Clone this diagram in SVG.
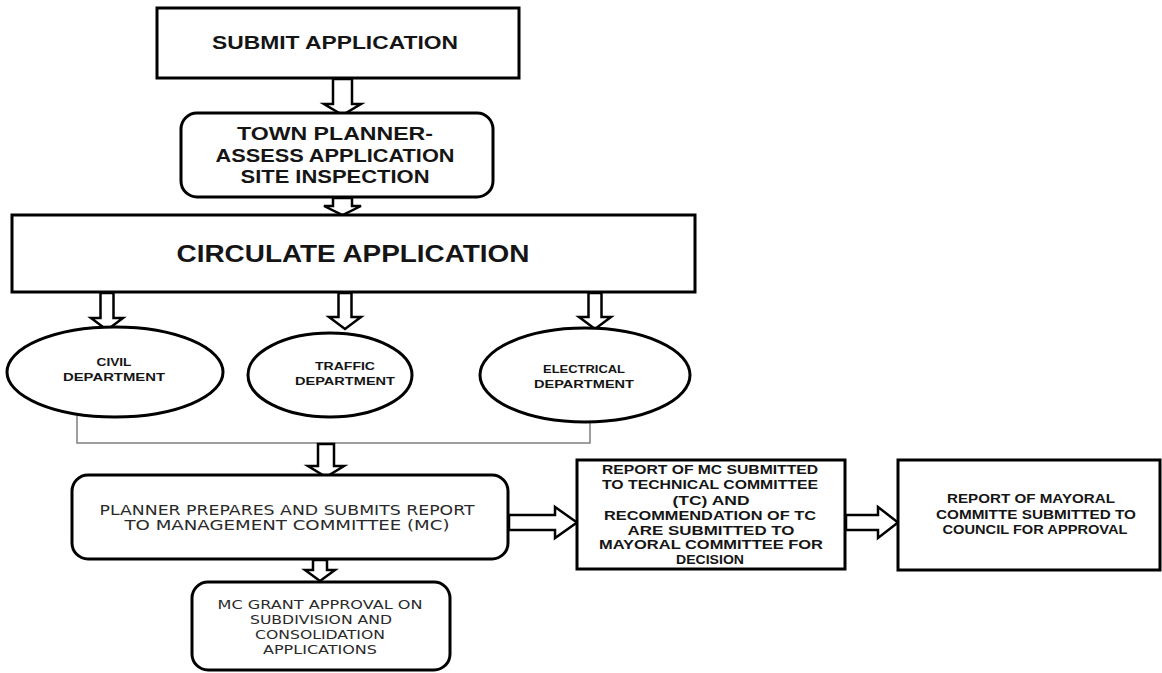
<svg xmlns="http://www.w3.org/2000/svg" width="1162" height="673" viewBox="0 0 1162 673">
<style>
.box{fill:#fff;stroke:#000;stroke-width:3}
.arr{fill:#fff;stroke:#000;stroke-width:2.5;stroke-linejoin:miter}
.link{fill:none;stroke:#7f7f7f;stroke-width:1.5}
.tb{font-family:"Liberation Sans",Arial,sans-serif;font-weight:bold;fill:#151515;text-anchor:middle}
.tw{font-family:"DejaVu Sans","Liberation Sans",sans-serif;fill:#2a2a2a;text-anchor:middle}
</style>
<rect width="1162" height="673" fill="#fff"/>
<g id="connectors">
<polyline class="link" points="77,414 77,443 590,443 590,422"/>
<polygon class="arr" points="333,79 352,79 352,104 361,104 342.5,115 324,104 333,104"/>
<polygon class="arr" points="333,198 352,198 352,206 361,206 342.5,215 324,206 333,206"/>
<polygon class="arr" points="100.5,293 113.5,293 113.5,318 123,318 107,330 91,318 100.5,318"/>
<polygon class="arr" points="338.5,293 351.5,293 351.5,317 361,317 345,329 329,317 338.5,317"/>
<polygon class="arr" points="588.5,293 601.5,293 601.5,317 611,317 595,329 579,317 588.5,317"/>
<polygon class="arr" points="318,444 334,444 334,466 344,466 326,477 308,466 318,466"/>
<polygon class="arr" points="313,560 327,560 327,570 335,570 320,581 305,570 313,570"/>
<polygon class="arr" points="509,515 555,515 555,507 577,522.5 555,538 555,530 509,530"/>
<polygon class="arr" points="846,515 878,515 878,507 898,522.5 878,538 878,530 846,530"/>
</g>
<g id="submit">
<rect class="box" x="157" y="8" width="362" height="70"/>
<text class="tb" x="335" y="49" font-size="18" textLength="246" lengthAdjust="spacingAndGlyphs">SUBMIT APPLICATION</text>
</g>
<g id="townplanner">
<rect class="box" x="181" y="113" width="312" height="84" rx="16"/>
<text class="tb" x="335" y="140" font-size="19" textLength="196" lengthAdjust="spacingAndGlyphs">TOWN PLANNER-</text>
<text class="tb" x="335" y="162" font-size="19" textLength="239" lengthAdjust="spacingAndGlyphs">ASSESS APPLICATION</text>
<text class="tb" x="335" y="183" font-size="19" textLength="189" lengthAdjust="spacingAndGlyphs">SITE INSPECTION</text>
</g>
<g id="circulate">
<rect class="box" x="12" y="215" width="683" height="77"/>
<text class="tb" x="353" y="262" font-size="23" textLength="353" lengthAdjust="spacingAndGlyphs">CIRCULATE APPLICATION</text>
</g>
<g id="civil">
<ellipse class="box" cx="115" cy="372" rx="108" ry="45"/>
<text class="tb" x="114" y="366" font-size="11" textLength="35" lengthAdjust="spacingAndGlyphs">CIVIL</text>
<text class="tb" x="114" y="381" font-size="11" textLength="102" lengthAdjust="spacingAndGlyphs">DEPARTMENT</text>
</g>
<g id="traffic">
<ellipse class="box" cx="330" cy="375" rx="82" ry="42"/>
<text class="tb" x="345" y="370" font-size="11" textLength="60" lengthAdjust="spacingAndGlyphs">TRAFFIC</text>
<text class="tb" x="345" y="385" font-size="11" textLength="100" lengthAdjust="spacingAndGlyphs">DEPARTMENT</text>
</g>
<g id="electrical">
<ellipse class="box" cx="585" cy="375" rx="105" ry="47"/>
<text class="tb" x="584" y="373" font-size="11" textLength="82" lengthAdjust="spacingAndGlyphs">ELECTRICAL</text>
<text class="tb" x="584" y="388" font-size="11" textLength="100" lengthAdjust="spacingAndGlyphs">DEPARTMENT</text>
</g>
<g id="planner">
<rect class="box" x="72" y="475" width="436" height="84" rx="16"/>
<text class="tw" x="287" y="515" font-size="14" textLength="375" lengthAdjust="spacingAndGlyphs">PLANNER PREPARES AND SUBMITS REPORT</text>
<text class="tw" x="287" y="530" font-size="14" textLength="325" lengthAdjust="spacingAndGlyphs">TO MANAGEMENT COMMITTEE (MC)</text>
</g>
<g id="mcgrant">
<rect class="box" x="192" y="582" width="258" height="88" rx="16"/>
<text class="tw" x="320" y="609" font-size="12" textLength="205" lengthAdjust="spacingAndGlyphs">MC GRANT  APPROVAL ON</text>
<text class="tw" x="321" y="624" font-size="12" textLength="142" lengthAdjust="spacingAndGlyphs">SUBDIVISION  AND</text>
<text class="tw" x="320" y="639" font-size="12" textLength="130" lengthAdjust="spacingAndGlyphs">CONSOLIDATION</text>
<text class="tw" x="320" y="654" font-size="12" textLength="114" lengthAdjust="spacingAndGlyphs">APPLICATIONS</text>
</g>
<g id="tc">
<rect class="box" x="577" y="460" width="268" height="109"/>
<text class="tb" x="710" y="474" font-size="12" textLength="216" lengthAdjust="spacingAndGlyphs">REPORT  OF MC SUBMITTED</text>
<text class="tb" x="710" y="489" font-size="12" textLength="216" lengthAdjust="spacingAndGlyphs">TO TECHNICAL COMMITTEE</text>
<text class="tb" x="711" y="505" font-size="12" textLength="77" lengthAdjust="spacingAndGlyphs">(TC) AND</text>
<text class="tb" x="710" y="520" font-size="12" textLength="212" lengthAdjust="spacingAndGlyphs">RECOMMENDATION  OF TC</text>
<text class="tb" x="711" y="535" font-size="12" textLength="167" lengthAdjust="spacingAndGlyphs">ARE SUBMITTED  TO</text>
<text class="tb" x="711" y="549" font-size="12" textLength="224" lengthAdjust="spacingAndGlyphs">MAYORAL COMMITTEE  FOR</text>
<text class="tb" x="710" y="564" font-size="12" textLength="68" lengthAdjust="spacingAndGlyphs">DECISION</text>
</g>
<g id="council">
<rect class="box" x="898" y="460" width="262" height="110"/>
<text class="tb" x="1031" y="503" font-size="12" textLength="168" lengthAdjust="spacingAndGlyphs">REPORT  OF MAYORAL</text>
<text class="tb" x="1036" y="519" font-size="12" textLength="200" lengthAdjust="spacingAndGlyphs">COMMITTE  SUBMITTED  TO</text>
<text class="tb" x="1035" y="534" font-size="12" textLength="185" lengthAdjust="spacingAndGlyphs">COUNCIL FOR APPROVAL</text>
</g>
</svg>
